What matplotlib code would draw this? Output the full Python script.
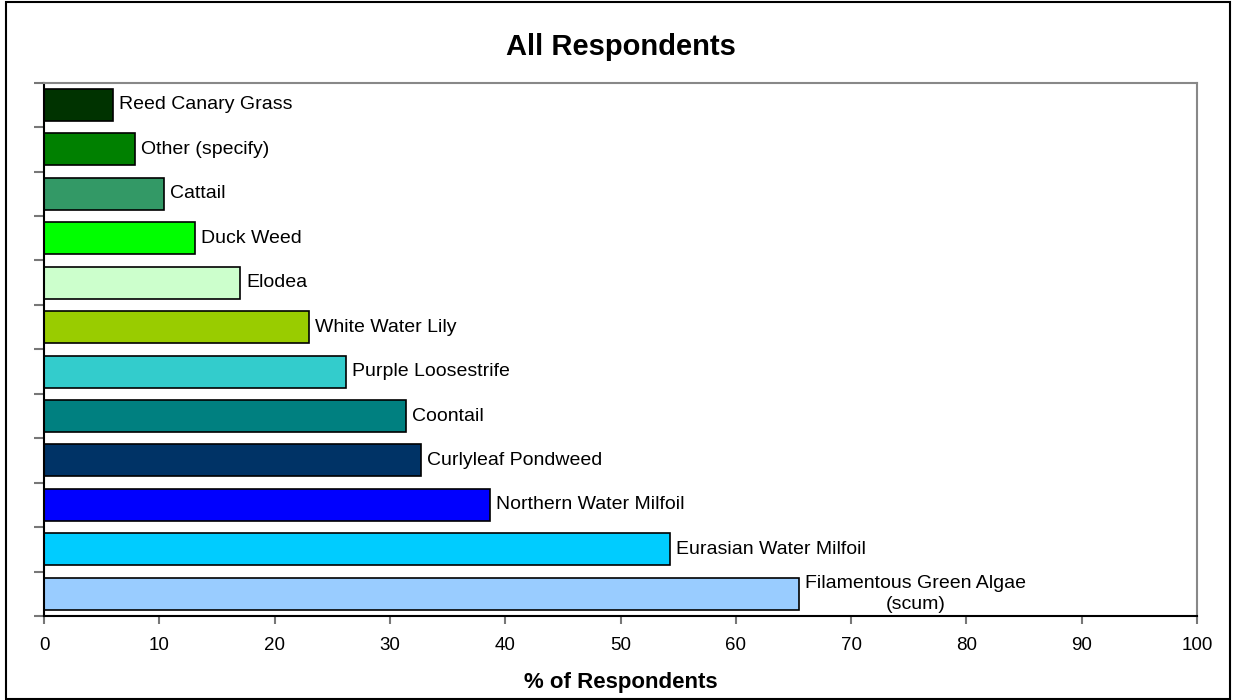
import matplotlib.pyplot as plt
import numpy as np
from matplotlib.patches import Rectangle

plt.rcParams['font.family'] = ['Liberation Sans', 'DejaVu Sans']

# plants listed top to bottom
plants = ['Reed Canary Grass', 'Other (specify)', 'Cattail', 'Duck Weed', 'Elodea',
          'White Water Lily', 'Purple Loosestrife', 'Coontail', 'Curlyleaf Pondweed',
          'Northern Water Milfoil', 'Eurasian Water Milfoil',
          'Filamentous Green Algae\n(scum)']
pct = [6.0, 7.9, 10.4, 13.1, 17.0, 23.0, 26.2, 31.4, 32.7, 38.7, 54.3, 65.5]
colors = ['#003300', '#008000', '#339966', '#00FF00', '#CCFFCC', '#99CC00',
          '#33CCCC', '#008080', '#003366', '#0000FF', '#00CCFF', '#99CCFF']
xticks = list(range(0, 101, 10))

fig = plt.figure(figsize=(12.36, 7.0), dpi=100)
ax = fig.add_axes([44 / 1236, 84 / 700, 1153 / 1236, 533.3 / 700])

y = np.arange(len(plants))
ax.barh(y, pct, height=0.72, color=colors, edgecolor='black', linewidth=1.2)
for yi, v, name in zip(y, pct, plants):
    ax.annotate(name, (v, yi), xytext=(4.5, 0), textcoords='offset points',
                ha='left', va='center', multialignment='center', fontsize=14,
                linespacing=1.35)

ax.set_xlim(0, 100)
ax.set_ylim(len(plants) - 0.5, -0.5)
ax.set_xticks(xticks)
ax.set_yticks(np.arange(-0.5, len(plants), 1.0))
ax.set_yticklabels([])
ax.tick_params(axis='x', direction='out', length=6, width=1.5, color='#777777',
               labelsize=13.5, pad=9)
ax.tick_params(axis='y', direction='out', length=7, width=1.5, color='#777777')
for side in ['left', 'bottom']:
    ax.spines[side].set_color('black')
    ax.spines[side].set_linewidth(1.5)
for side in ['top', 'right']:
    ax.spines[side].set_color('#888888')
    ax.spines[side].set_linewidth(1.5)

xc = 620.5 / 1236
fig.text(xc, 1 - 55 / 700, 'All Respondents', ha='center', va='baseline',
         fontsize=21, fontweight='bold')
fig.text(xc, 1 - 688 / 700, '% of Respondents', ha='center', va='baseline',
         fontsize=16, fontweight='bold')

# outer frame around the whole chart
fig.patches.append(Rectangle((6 / 1236, 1 / 700), 1224 / 1236, 697 / 700,
                             transform=fig.transFigure, fill=False,
                             edgecolor='black', linewidth=1.5))

fig.savefig('out.png', dpi=100)
